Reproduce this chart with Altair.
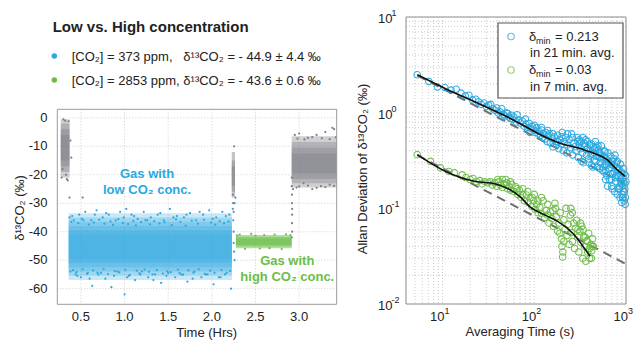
import altair as alt
import pandas as pd

FONT = "Liberation Sans"
BLUE = "#2AA8E0"
GREEN = "#6CBD47"
GRAY = "#7E7E86"
TXT = "#222222"

# ---------------- left panel data ----------------
# each cloud: time span and nested density bands (upper / lower edge of each band)
blue_span = [0.36, 2.23]
blue_band_hi = [-33.5, -35, -36.5, -38, -39.5, -41]
blue_band_lo = [-57, -55.5, -54, -52.5, -51, -49.5]
gray1_span = [0.27, 0.37]
gray1_band_hi = [-0.5, -2, -4, -6]
gray1_band_lo = [-21, -19, -17, -15]
gray2_span = [2.228, 2.265]
gray2_band_hi = [-12, -15, -17]
gray2_band_lo = [-28, -26, -24]
gray3_span = [2.915, 3.43]
gray3_band_hi = [-6.5, -8.5, -10.5, -12.5]
gray3_band_lo = [-24.5, -23, -21.5, -19.5]
green_span = [2.276, 2.914]
green_band_hi = [-41.2, -41.8, -42.4]
green_band_lo = [-45.8, -45.2, -44.6]

blue_out_t = [0.37, 0.42, 0.48, 0.55, 0.62, 0.68, 0.75, 0.82, 0.9, 0.95, 1.02, 1.08, 1.15, 1.22,
              1.3, 1.38, 1.45, 1.52, 1.6, 1.68, 1.75, 1.82, 1.9, 1.97, 2.05, 2.12, 2.2,
              0.4, 0.51, 0.66, 0.79, 0.99, 1.11, 1.26, 1.41, 1.56, 1.71, 1.86, 2.01, 2.16,
              0.39, 0.47, 0.53, 0.59, 0.65, 0.71, 0.77, 0.84, 0.87, 0.93, 0.98, 1.04, 1.1, 1.13, 1.19,
              1.24, 1.29, 1.34, 1.4, 1.46, 1.54, 1.59, 1.64, 1.7, 1.77, 1.84, 1.91, 1.99, 2.04, 2.09,
              2.14, 2.19,
              0.38, 0.44, 0.5, 0.58, 0.63, 0.7, 0.78, 0.85, 0.92, 1.0, 1.05, 1.12, 1.2, 1.27,
              1.35, 1.42, 1.5, 1.58, 1.65, 1.72, 1.8, 1.88, 1.95, 2.02, 2.1, 2.17, 2.22,
              0.46, 0.6, 0.73, 0.88, 1.03, 1.18, 1.33, 1.48, 1.63, 1.78, 1.93, 2.08,
              0.41, 0.45, 0.52, 0.57, 0.64, 0.69, 0.76, 0.81, 0.89, 0.94, 1.01, 1.06, 1.14, 1.17, 1.23,
              1.28, 1.32, 1.37, 1.44, 1.49, 1.53, 1.61, 1.67, 1.73, 1.79, 1.85, 1.92, 1.98, 2.03, 2.11,
              2.15, 2.21,
              2.24, 2.245, 2.25, 2.25, 2.255, 2.26, 2.26]
blue_out_y = [-35, -36, -34, -33, -36, -32.5, -35, -34, -36, -33, -32, -34, -35.5, -33,
              -35, -34, -36, -32, -34.5, -35, -33.5, -36, -34, -32.5, -35, -33, -34,
              -34.5, -35.5, -34, -33.5, -35, -34.5, -36, -33.5, -35, -34, -33, -35.5, -34.5,
              -36.5, -37, -36, -37.5, -36.8, -35.8, -37.2, -36.4, -37.6, -35.6, -36.9, -37.3, -36.2,
              -37.8, -36.6, -35.9, -37.4, -36.3, -37.1, -36.7, -37.7, -35.7, -36.5, -37.9, -36.1,
              -37.2, -35.8, -36.8, -37.5, -36.3, -37, -36.4,
              -54, -55, -56, -54.5, -59, -55, -56.5, -59.5, -54, -62, -55.5, -57, -54, -56,
              -55, -58, -54.5, -56, -55, -57.5, -54, -56, -55, -58.5, -56, -54.5, -60,
              -55.5, -56.5, -54.5, -55.5, -56, -55, -57, -55.5, -54.5, -56.5, -55, -56,
              -53.5, -54.2, -53.2, -54.8, -53.6, -54.4, -53.1, -54.9, -53.8, -54.3, -53.4, -55.2, -53.7,
              -54.6, -53.3, -54.1, -55, -53.5, -54.7, -53.9, -54.2, -53.3, -55.1, -53.6, -54.4, -53.2,
              -54.8, -53.7, -54.5, -53.4, -55, -53.8,
              -32, -36, -40, -44, -47, -50, -30]

gray_pt_t = [0.33, 0.35, 0.37, 0.38, 0.39, 0.52, 0.32, 0.30, 0.29, 0.28, 0.34, 0.36,
             2.24, 2.245, 2.25, 2.27, 2.255,
             2.915, 2.915, 2.917, 2.917, 2.92, 2.92, 2.918, 2.92, 2.915, 2.93,
             2.95, 3.0, 3.1, 3.2, 3.3, 3.4, 3.38, 2.98, 3.06, 3.15, 3.26, 3.35, 3.42,
             2.97, 3.05, 3.15, 3.25, 3.35, 3.0, 3.1, 3.2, 3.3, 3.4]
gray_pt_y = [-20, -22, -28, -8, -14, -28, -1, -0.5, -18, -21, -21.5, -1.2,
             -27, -30, -33, -28, -10,
             -21, -24, -27, -30, -32, -34, -37, -40, -42, -25,
             -6, -5.5, -7, -6, -5, -4, -3.5, -7.3, -7.6, -6.8, -7.2, -7.5, -6.9,
             -24.5, -23, -25, -24, -23.5, -24.1, -23.8, -24.6, -24.3, -23.9]

green_pt_t = [2.32, 2.45, 2.6, 2.72, 2.85, 2.38, 2.55, 2.8, 2.29, 2.5, 2.66, 2.9]
green_pt_y = [-41.0, -40.8, -41.2, -41.0, -40.9, -46.0, -45.9, -46.1, -41.3, -41.4, -45.8, -41.2]

left_xticks = [0.5, 1.0, 1.5, 2.0, 2.5, 3.0]
left_xlabels = ["0.5", "1.0", "1.5", "2.0", "2.5", "3.0"]
left_yticks = [0, -10, -20, -30, -40, -50, -60]
left_ylabels = ["0", "-10", "-20", "-30", "-40", "-50", "-60"]

# ---------------- right panel data (Allan deviation) ----------------
blue_tau = [5.3, 7.1, 8.8, 10.6, 12.4, 14.1, 15.9, 17.7, 19.4, 21.2, 23, 24.7, 26.5, 28.3, 30, 31.8,
            33.6, 35.3, 37.1, 38.9, 40.6, 42.4, 44.2, 46, 47.7, 49.5, 51.3, 53, 54.8, 56.6, 58.3, 60,
            63.6, 67, 70.7, 74, 77.8, 81, 85, 88, 92, 95, 99, 102, 106, 110, 113, 117, 120, 124, 127,
            131, 134, 138, 141, 145, 150, 155, 160, 165, 170, 175, 180, 185, 190, 196, 202, 208, 214,
            220, 226, 232, 240, 248, 255, 262, 270, 278, 286, 294, 302, 310, 318, 326, 335, 344, 353,
            362, 371, 380, 390, 400, 410, 420, 430, 440, 452, 464, 476, 488, 500, 512, 525, 538, 551,
            564, 578, 592, 606, 620, 635, 650, 665, 680, 695, 710, 726, 742, 758, 774, 790, 806, 822,
            838, 855, 872, 889, 906, 923, 940, 957, 974, 990,
            600, 600, 700, 750, 820, 860, 900, 910, 930, 960, 980, 940, 880, 780, 680, 560, 520, 480,
            450, 420, 380, 340, 300, 260, 230, 200, 180, 160, 140, 120, 100, 90, 80, 65, 45,
            310, 330, 350, 370, 395, 415, 435, 455, 470, 495, 515, 530, 545, 575, 590, 615, 630, 645,
            660, 690, 705, 720, 735, 765, 785, 800, 815, 845, 865, 895, 915, 935, 950, 970, 985, 998]
blue_adev = [2.49, 2.12, 1.85, 1.83, 1.72, 1.76, 1.6, 1.5, 1.52, 1.36, 1.38, 1.3, 1.22, 1.26, 1.16, 1.2,
             1.22, 1.1, 1.06, 1.12, 0.99, 1.02, 1.1, 0.96, 0.93, 1.0, 0.98, 0.9, 0.87, 0.94, 0.85, 0.9,
             0.8, 0.84, 0.78, 0.82, 0.72, 0.76, 0.7, 0.77, 0.68, 0.72, 0.66, 0.62, 0.7, 0.6, 0.64, 0.58,
             0.66, 0.55, 0.6, 0.53, 0.62, 0.5, 0.57, 0.6, 0.48, 0.54, 0.44, 0.56, 0.5, 0.46, 0.58, 0.42,
             0.52, 0.47, 0.62, 0.4, 0.5, 0.55, 0.38, 0.46, 0.52, 0.43, 0.6, 0.36, 0.48, 0.44, 0.4, 0.55,
             0.34, 0.47, 0.42, 0.5, 0.38, 0.3, 0.45, 0.52, 0.36, 0.42, 0.33, 0.46, 0.4, 0.28, 0.37, 0.44,
             0.32, 0.5, 0.35, 0.27, 0.41, 0.38, 0.3, 0.45, 0.25, 0.35, 0.4, 0.29, 0.33, 0.22, 0.38, 0.3,
             0.26, 0.35, 0.2, 0.31, 0.28, 0.24, 0.36, 0.19, 0.27, 0.31, 0.22, 0.26, 0.17, 0.29, 0.24,
             0.14, 0.21, 0.26, 0.12, 0.18, 0.22,
             0.2, 0.25, 0.17, 0.15, 0.16, 0.13, 0.115, 0.17, 0.13, 0.15, 0.11, 0.19, 0.19, 0.22, 0.23,
             0.27, 0.34, 0.43, 0.38, 0.47, 0.5, 0.55, 0.5, 0.55, 0.6, 0.56, 0.5, 0.6, 0.65, 0.7, 0.74,
             0.62, 0.86, 0.95, 0.9,
             0.52, 0.31, 0.48, 0.41, 0.3, 0.36, 0.27, 0.42, 0.31, 0.45, 0.26, 0.37, 0.33, 0.24, 0.39,
             0.28, 0.17, 0.31, 0.2, 0.29, 0.16, 0.23, 0.33, 0.21, 0.3, 0.14, 0.25, 0.16, 0.22, 0.18,
             0.13, 0.15, 0.23, 0.16, 0.13, 0.19]

green_tau = [5.3, 7.4, 9.5, 11.7, 13.5, 16.4, 18, 20, 21.5, 23.5, 25.5, 27, 29, 31, 33, 35, 37, 39, 41,
             43, 45, 47, 49, 51, 53, 55, 57, 60, 63, 66, 69, 72, 75, 78, 82, 86, 90, 94, 98, 102, 106,
             110, 115, 120, 125, 130, 135, 140, 145, 150, 156, 162, 168, 174, 180, 186, 192, 198, 204,
             210, 216, 222, 228, 234, 240, 247, 254, 261, 268, 275, 282, 290, 298, 306, 314, 322, 330,
             338, 346, 355, 364, 373, 382, 392, 402, 412, 422, 432, 442,
             200, 205, 210, 190, 250, 260, 300, 320, 340, 360, 380, 400, 420, 430, 170, 160, 140, 120,
             100, 110, 95, 85, 75, 65, 55, 45, 40, 50]
green_adev = [0.364, 0.31, 0.265, 0.243, 0.235, 0.224, 0.21, 0.2, 0.205, 0.19, 0.195, 0.18, 0.19, 0.185,
              0.19, 0.175, 0.185, 0.17, 0.19, 0.175, 0.165, 0.18, 0.2, 0.16, 0.17, 0.155, 0.178, 0.15,
              0.168, 0.14, 0.155, 0.13, 0.16, 0.12, 0.138, 0.115, 0.128, 0.105, 0.12, 0.098, 0.11, 0.09,
              0.102, 0.088, 0.12, 0.08, 0.095, 0.085, 0.07, 0.092, 0.078, 0.065, 0.113, 0.082, 0.058,
              0.07, 0.09, 0.048, 0.031, 0.076, 0.06, 0.1, 0.052, 0.068, 0.042, 0.085, 0.056, 0.045, 0.07,
              0.038, 0.062, 0.075, 0.05, 0.035, 0.058, 0.044, 0.065, 0.03, 0.05, 0.04, 0.028, 0.046,
              0.035, 0.055, 0.03, 0.042, 0.036, 0.048, 0.04,
              0.04, 0.035, 0.045, 0.055, 0.1, 0.09, 0.06, 0.07, 0.06, 0.05, 0.045, 0.038, 0.03, 0.04,
              0.1, 0.095, 0.11, 0.13, 0.14, 0.12, 0.13, 0.15, 0.14, 0.16, 0.19, 0.2, 0.2, 0.185]

blue_fit_tau = [5.31, 10.8, 25.9, 57.7, 135, 191.7, 316, 460, 622, 759, 975]
blue_fit_adev = [2.49, 1.78, 1.22, 0.85, 0.55, 0.479, 0.421, 0.373, 0.322, 0.266, 0.216]
green_fit_tau = [5.31, 10.8, 22.8, 37.7, 52.1, 70.4, 90.5, 131.8, 177.9, 228.4, 293, 358, 406]
green_fit_adev = [0.364, 0.243, 0.191, 0.18, 0.16, 0.1315, 0.103, 0.085, 0.0735, 0.062, 0.0487,
                  0.0373, 0.0315]

slope_tau = [5.3, 1000]
blue_slope = [2.45, 0.178]
green_slope = [0.36, 0.0262]

x_decades = [10, 100, 1000]
x_exps = ["1", "2", "3"]
y_decades = [0.01, 0.1, 1, 10]
y_exps = ["-2", "-1", "0", "1"]
x_grid = [5, 6, 7, 8, 9, 10, 20, 30, 40, 50, 60, 70, 80, 90, 100, 200, 300, 400, 500, 600, 700,
          800, 900]
y_grid = [0.02, 0.03, 0.04, 0.05, 0.06, 0.07, 0.08, 0.09, 0.1, 0.2, 0.3, 0.4, 0.5, 0.6,
          0.7, 0.8, 0.9, 1, 2, 3, 4, 5, 6, 7, 8, 9]

# ---------------- frame geometry (pixels) ----------------
L_X0, L_X1, L_Y0, L_Y1 = 57.3, 336.7, 109.3, 304.3
R_X0, R_X1, R_Y0, R_Y1 = 406.0, 626.0, 17.0, 304.0

lx = alt.Scale(domain=[0.23, 3.43], range=[L_X0, L_X1], nice=False, zero=False)
ly = alt.Scale(domain=[-65.5, 3], range=[L_Y1, L_Y0], nice=False, zero=False)
rx = alt.Scale(type="log", domain=[4, 1000], range=[R_X0, R_X1], nice=False)
ry = alt.Scale(type="log", domain=[0.01, 10], range=[R_Y1, R_Y0], nice=False)

one = pd.DataFrame({"k": [0]})


def cloud(span, hi, lo, color, opacity):
    n = len(hi)
    df = pd.DataFrame({"t0": [span[0]] * n, "t1": [span[1]] * n, "hi": hi, "lo": lo})
    return alt.Chart(df).mark_rect(color=color, opacity=opacity).encode(
        x=alt.X("t0:Q", scale=lx, axis=None), x2="t1",
        y=alt.Y("hi:Q", scale=ly, axis=None), y2="lo")


def lpts(t, y, color, size=5):
    df = pd.DataFrame({"t": t, "y": y})
    return alt.Chart(df).mark_circle(color=color, size=size, opacity=1).encode(
        x=alt.X("t:Q", scale=lx, axis=None), y=alt.Y("y:Q", scale=ly, axis=None))


def ltext(txt, tx, ty, color):
    return alt.Chart(one).mark_text(text=txt, color=color, font=FONT, fontSize=13, fontWeight="bold",
                                    align="center", baseline="middle").encode(
        x=alt.datum(tx, scale=lx, axis=None), y=alt.datum(ty, scale=ly, axis=None))


def ptext(txt, px, py, size=13, angle=0, align="left", color=TXT, weight="normal"):
    return alt.Chart(one).mark_text(text=txt, color=color, font=FONT, fontSize=size, angle=angle,
                                    align=align, baseline="middle", fontWeight=weight).encode(
        x=alt.value(px), y=alt.value(py))


def frame(x0, x1, y0, y1, color):
    return alt.Chart(one).mark_rect(fill="transparent", stroke=color, strokeWidth=1).encode(
        x=alt.value(x0), x2=alt.value(x1), y=alt.value(y0), y2=alt.value(y1))


GRID = dict(strokeDash=[1, 2], strokeWidth=0.8)

layers = []

# ---- left panel: grid ----
layers.append(alt.Chart(pd.DataFrame({"v": left_xticks})).mark_rule(color="#c4c4c4", **GRID).encode(
    x=alt.X("v:Q", scale=lx, axis=None), y=alt.value(L_Y0), y2=alt.value(L_Y1)))
layers.append(alt.Chart(pd.DataFrame({"v": left_yticks})).mark_rule(color="#c4c4c4", **GRID).encode(
    y=alt.Y("v:Q", scale=ly, axis=None), x=alt.value(L_X0), x2=alt.value(L_X1)))

# ---- left panel: data ----
layers += [
    cloud(blue_span, blue_band_hi, blue_band_lo, BLUE, 0.26),
    lpts(blue_out_t, blue_out_y, BLUE),
    cloud(gray1_span, gray1_band_hi, gray1_band_lo, GRAY, 0.38),
    cloud(gray2_span, gray2_band_hi, gray2_band_lo, GRAY, 0.45),
    cloud(gray3_span, gray3_band_hi, gray3_band_lo, GRAY, 0.36),
    lpts(gray_pt_t, gray_pt_y, GRAY),
    cloud(green_span, green_band_hi, green_band_lo, GREEN, 0.5),
    lpts(green_pt_t, green_pt_y, GREEN),
    ltext("Gas with", 1.258, -19.8, BLUE),
    ltext("low CO\u2082 conc.", 1.258, -25.2, BLUE),
    ltext("Gas with", 2.864, -50.4, GREEN),
    ltext("high CO\u2082 conc.", 2.864, -55.9, GREEN),
    frame(L_X0, L_X1, L_Y0, L_Y1, "#9a9a9a"),
]
# ---- left panel: tick labels and titles ----
layers.append(alt.Chart(pd.DataFrame({"v": left_xticks, "s": left_xlabels})).mark_text(
    font=FONT, fontSize=13, color=TXT, align="center", baseline="middle").encode(
    x=alt.X("v:Q", scale=lx, axis=None), y=alt.value(316.7), text="s:N"))
layers.append(alt.Chart(pd.DataFrame({"v": left_yticks, "s": left_ylabels})).mark_text(
    font=FONT, fontSize=13, color=TXT, align="right", baseline="middle").encode(
    y=alt.Y("v:Q", scale=ly, axis=None), x=alt.value(47.5), text="s:N"))
layers += [
    ptext("Time (Hrs)", 206.7, 332.5, align="center"),
    ptext("\u03b4\u00b9\u00b3CO\u2082 (\u2030)", 20, 208, angle=270, align="center"),
    # header
    ptext("Low vs. High concentration", 52.7, 27, size=15, weight="bold"),
    alt.Chart(one).mark_circle(color=BLUE, size=30, opacity=1).encode(x=alt.value(54.3), y=alt.value(56)),
    alt.Chart(one).mark_circle(color=GREEN, size=30, opacity=1).encode(x=alt.value(54.3), y=alt.value(80)),
    ptext("[CO\u2082] = 373 ppm,\u00a0\u00a0 \u03b4\u00b9\u00b3CO\u2082 = - 44.9 \u00b1 4.4 \u2030", 71.7, 57),
    ptext("[CO\u2082] = 2853 ppm, \u03b4\u00b9\u00b3CO\u2082 = - 43.6 \u00b1 0.6 \u2030", 71.7, 81),
]

# ---- right panel ----
layers.append(alt.Chart(pd.DataFrame({"v": x_grid})).mark_rule(color="#bdbdbd", **GRID).encode(
    x=alt.X("v:Q", scale=rx, axis=None), y=alt.value(R_Y0), y2=alt.value(R_Y1)))
layers.append(alt.Chart(pd.DataFrame({"v": y_grid})).mark_rule(color="#bdbdbd", **GRID).encode(
    y=alt.Y("v:Q", scale=ry, axis=None), x=alt.value(R_X0), x2=alt.value(R_X1)))


def rline(tau, val, color, width, dash=None, interp="linear"):
    df = pd.DataFrame({"tau": tau, "v": val})
    kw = dict(color=color, strokeWidth=width, interpolate=interp)
    if dash is not None:
        kw["strokeDash"] = dash
    return alt.Chart(df).mark_line(**kw).encode(
        x=alt.X("tau:Q", scale=rx, axis=None), y=alt.Y("v:Q", scale=ry, axis=None))


def rpts(tau, val, color):
    df = pd.DataFrame({"tau": tau, "v": val})
    return alt.Chart(df).mark_point(shape="circle", filled=False, color=color, size=42,
                                    strokeWidth=1.1, opacity=0.95).encode(
        x=alt.X("tau:Q", scale=rx, axis=None), y=alt.Y("v:Q", scale=ry, axis=None))


layers += [
    rline(slope_tau, blue_slope, "#6e6e6e", 2, dash=[9, 6]),
    rline(slope_tau, green_slope, "#6e6e6e", 2, dash=[9, 6]),
    rpts(blue_tau, blue_adev, BLUE),
    rpts(green_tau, green_adev, GREEN),
    rline(blue_fit_tau, blue_fit_adev, "#111111", 1.6, interp="monotone"),
    rline(green_fit_tau, green_fit_adev, "#111111", 1.6, interp="monotone"),
    frame(R_X0, R_X1, R_Y0, R_Y1, "#8a8a8a"),
    # legend box
    alt.Chart(one).mark_rect(fill="white", stroke="#555555", strokeWidth=1.2).encode(
        x=alt.value(498), x2=alt.value(623), y=alt.value(23), y2=alt.value(98)),
    alt.Chart(one).mark_point(shape="circle", filled=False, color=BLUE, size=42, strokeWidth=1.2).encode(
        x=alt.value(511), y=alt.value(36.5)),
    alt.Chart(one).mark_point(shape="circle", filled=False, color=GREEN, size=42, strokeWidth=1.2).encode(
        x=alt.value(511), y=alt.value(70)),
    ptext("\u03b4", 529, 36.5),
    ptext("min", 536, 40.5, size=9),
    ptext("= 0.213", 555, 36.5),
    ptext("in 21 min. avg.", 530, 53),
    ptext("\u03b4", 529, 70),
    ptext("min", 536, 74, size=9),
    ptext("= 0.03", 555, 70),
    ptext("in 7 min. avg.", 530, 86.5),
]
xlab = pd.DataFrame({"v": x_decades, "e": x_exps})
ylab = pd.DataFrame({"v": y_decades, "e": y_exps})
layers += [
    alt.Chart(xlab).mark_text(font=FONT, fontSize=13, color=TXT, align="right", baseline="middle",
                              dx=2, text="10").encode(
        x=alt.X("v:Q", scale=rx, axis=None), y=alt.value(316.7)),
    alt.Chart(xlab).mark_text(font=FONT, fontSize=9, color=TXT, align="left", baseline="middle",
                              dx=2).encode(
        x=alt.X("v:Q", scale=rx, axis=None), y=alt.value(311), text="e:N"),
    alt.Chart(ylab).mark_text(font=FONT, fontSize=13, color=TXT, align="left", baseline="middle",
                              dy=2, text="10").encode(
        x=alt.value(378), y=alt.Y("v:Q", scale=ry, axis=None)),
    alt.Chart(ylab).mark_text(font=FONT, fontSize=9, color=TXT, align="left", baseline="middle",
                              dy=-4).encode(
        x=alt.value(391.5), y=alt.Y("v:Q", scale=ry, axis=None), text="e:N"),
    ptext("Averaging Time (s)", 520, 332, align="center"),
    ptext("Allan Deviation of \u03b4\u00b9\u00b3CO\u2082 (\u2030)", 363, 169, angle=270, align="center"),
]

chart = alt.layer(*layers).resolve_scale(x="independent", y="independent").properties(
    width=636, height=340, padding=0, background="white",
    autosize=alt.AutoSizeParams(type="none"),
    view=alt.ViewBackground(stroke="transparent"),
).configure(font=FONT)

chart.save("out.html", embed_options={"renderer": "svg", "actions": False})
